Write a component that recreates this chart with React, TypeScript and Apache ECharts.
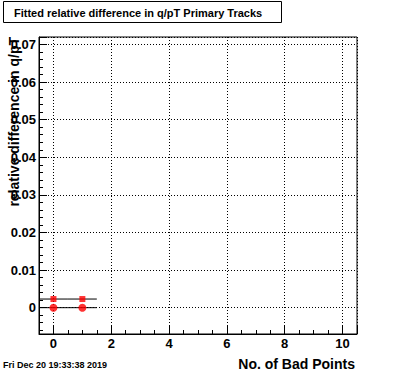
import React, { useEffect, useRef } from "react";
import * as echarts from "echarts";

// ---- data ----
const xBins = [0, 1];
const xErrors = [0.5, 0.5];
const circleValues = [0, 0];
const squareValues = [0.0023, 0.0023];

const titleText = "Fitted relative difference in q/pT Primary Tracks";
const yTitle = "relative difference in q/pT";
const xTitle = "No. of Bad Points";
const dateText = "Fri Dec 20 19:33:38 2019";

const xRange = [-0.5, 10.5];
const yRange = [-0.007, 0.072];

const FONT = "'Liberation Sans', Arial, Helvetica, sans-serif";

export default function App() {
  const ref = useRef<HTMLDivElement>(null);
  useEffect(() => {
    if (!ref.current) return;
    const chart = echarts.init(ref.current, null, { renderer: "svg" });

    const circleData = xBins.map((x, i) => [x, circleValues[i]]);
    const squareData = xBins.map((x, i) => [x, squareValues[i]]);
    const errData = [
      ...xBins.map((x, i) => [x, circleValues[i], xErrors[i]]),
      ...xBins.map((x, i) => [x, squareValues[i], xErrors[i]]),
    ];

    const grid = { left: 39, top: 37, right: 39, bottom: 38 };

    chart.setOption({
      animation: false,
      backgroundColor: "#fff",
      grid: {
        ...grid,
        show: true,
        borderColor: "#000",
        borderWidth: 1,
        backgroundColor: "transparent",
        containLabel: false,
      },
      xAxis: {
        type: "value",
        min: xRange[0],
        max: xRange[1],
        splitNumber: 5,
        axisLine: { show: true, onZero: false, lineStyle: { color: "#000", width: 1 } },
        axisTick: { show: true, inside: true, length: 9, lineStyle: { color: "#000" } },
        minorTick: { show: true, splitNumber: 4, length: 4, lineStyle: { color: "#000" } },
        splitLine: { show: true, lineStyle: { color: "#000", width: 1, type: [1, 2] } },
        axisLabel: {
          showMinLabel: false,
          showMaxLabel: false,
          margin: 3,
          color: "#000",
          fontFamily: FONT,
          fontWeight: "bold",
          fontSize: 13,
          formatter: (v: number) => {
            const r = Math.round(v);
            if (Math.abs(v - r) > 1e-6 || r % 2 !== 0) return "";
            return String(r);
          },
        },
      },
      yAxis: {
        type: "value",
        min: yRange[0],
        max: yRange[1],
        splitNumber: 8,
        axisLine: { show: true, onZero: false, lineStyle: { color: "#000", width: 1 } },
        axisTick: { show: true, inside: true, length: 8, lineStyle: { color: "#000" } },
        minorTick: { show: true, splitNumber: 5, length: 4, lineStyle: { color: "#000" } },
        splitLine: { show: true, lineStyle: { color: "#000", width: 1, type: [1, 2] } },
        axisLabel: {
          showMinLabel: false,
          showMaxLabel: false,
          margin: 3,
          color: "#000",
          fontFamily: FONT,
          fontWeight: "bold",
          fontSize: 13,
          formatter: (v: number) => {
            const r = Math.round(v * 100);
            if (Math.abs(v * 100 - r) > 1e-6) return "";
            return r === 0 ? "0" : (r / 100).toFixed(2);
          },
        },
      },
      series: [
        {
          type: "custom",
          data: errData,
          renderItem: (params: any, api: any) => {
            const x = api.value(0);
            const y = api.value(1);
            const e = api.value(2);
            const p1 = api.coord([x - e, y]);
            const p2 = api.coord([x + e, y]);
            return {
              type: "line",
              shape: { x1: p1[0], y1: p1[1], x2: p2[0], y2: p2[1] },
              style: { stroke: "#000", lineWidth: 1 },
            };
          },
          z: 2,
        },
        {
          type: "scatter",
          data: circleData,
          symbol: "circle",
          symbolSize: 8,
          itemStyle: { color: "#ff0000" },
          z: 3,
        },
        {
          type: "scatter",
          data: squareData,
          symbol: "rect",
          symbolSize: 6,
          itemStyle: { color: "#ff0000" },
          z: 3,
        },
      ],
      graphic: [
        {
          type: "rect",
          shape: { x: 3.5, y: 1.5, width: 278, height: 21 },
          style: { fill: "#fff", stroke: "#000", lineWidth: 1 },
          z: 10,
        },
        {
          type: "text",
          x: 14,
          y: 12.5,
          style: {
            text: titleText,
            font: `bold 11px ${FONT}`,
            fill: "#000",
            textAlign: "left",
            textVerticalAlign: "middle",
          },
          z: 11,
        },
        {
          type: "text",
          x: 14,
          y: 37,
          rotation: Math.PI / 2,
          style: {
            text: yTitle,
            font: `bold 14px ${FONT}`,
            fill: "#000",
            textAlign: "right",
            textVerticalAlign: "middle",
          },
          z: 11,
        },
        {
          type: "text",
          x: 355,
          y: 364,
          style: {
            text: xTitle,
            font: `bold 14px ${FONT}`,
            fill: "#000",
            textAlign: "right",
            textVerticalAlign: "middle",
          },
          z: 11,
        },
        {
          type: "text",
          x: 3,
          y: 365,
          style: {
            text: dateText,
            font: `bold 9px ${FONT}`,
            fill: "#000",
            textAlign: "left",
            textVerticalAlign: "middle",
          },
          z: 11,
        },
      ],
    });
    return () => chart.dispose();
  }, []);
  return (
    <div
      ref={ref}
      style={{ position: "fixed", left: 0, top: 0, width: 396, height: 372, background: "#fff" }}
    />
  );
}
